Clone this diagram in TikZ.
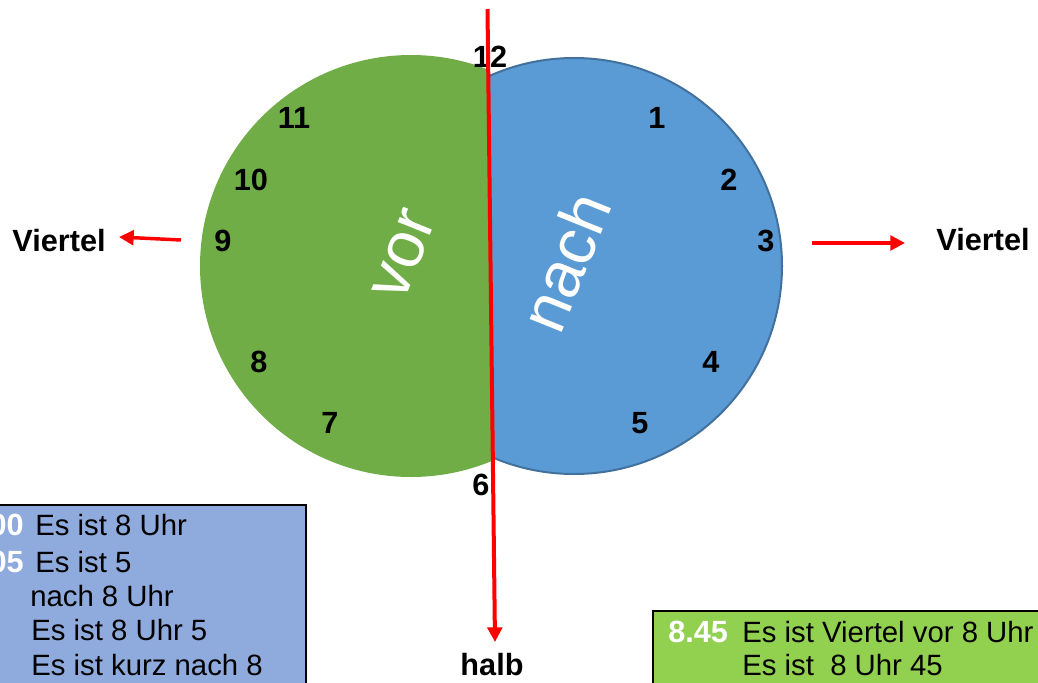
\documentclass[tikz,border=0pt]{standalone}
\usepackage{fontspec}
\setmainfont{Liberation Sans}
\usetikzlibrary{arrows.meta}
\definecolor{cgreen}{HTML}{70AD47}
\definecolor{cblue}{HTML}{5B9BD5}
\definecolor{cbord}{HTML}{41719C}
\definecolor{boxblue}{HTML}{8FAADC}
\definecolor{boxgreen}{HTML}{92D050}
\definecolor{cred}{HTML}{FF0000}
\begin{document}
\begin{tikzpicture}[x=0.75pt,y=-0.75pt,
  num/.style={font=\bfseries\fontsize{23}{27}\selectfont, inner sep=0pt},
  lbl/.style={font=\bfseries\fontsize{23}{27}\selectfont, inner sep=0pt, anchor=base},
  boxtxt/.style={font=\fontsize{22}{26}\selectfont, inner sep=0pt, anchor=base west},
  boxnum/.style={font=\bfseries\fontsize{23}{26}\selectfont, text=white, inner sep=0pt, anchor=base west},
  word/.style={font=\fontsize{49}{55}\selectfont, text=white, inner sep=0pt, rotate=68},
  redarrow/.style={draw=cred, line width=2.6pt, -{Triangle[length=11pt,width=11pt]}},
]
\useasboundingbox (0,0) rectangle (1038,682);
% green half
\begin{scope}
  \clip (0,-20) -- (487.2,-20) -- (495.8,700) -- (0,700) -- cycle;
  \fill[cgreen] (411,266) circle[radius=158.25pt];
\end{scope}
% blue half
\begin{scope}
  \clip (487.2,-20) -- (1100,-20) -- (1100,700) -- (495.8,700) -- cycle;
  \filldraw[fill=cblue, draw=cbord, line width=1.5pt] (574,266) circle[radius=156pt];
\end{scope}
% words
\node[word] (vor) at (404,255) {vor};
\node[word] (nach) at (565,262) {nach};
% numbers
\node[num] (n12) at (490,57) {12};
\node[num] (n1) at (657,118) {1};
\node[num] (n2) at (729,180) {2};
\node[num] (n3) at (766,241) {3};
\node[num] (n4) at (711,362) {4};
\node[num] (n5) at (640,423) {5};
\node[num] (n6) at (481,485) {6};
\node[num] (n7) at (330,423) {7};
\node[num] (n8) at (259,362) {8};
\node[num] (n9) at (223,241) {9};
\node[num] (n10) at (251,180) {10};
\node[num] (n11) at (294,118) {11};
% red line
\coordinate (ltop) at (487.5,9);
\coordinate (lbot) at (495,642);
\draw[redarrow, line width=3pt] (ltop) -- (lbot);
\node[lbl] (halb) at (492,675) {halb};
% side arrows
\node[lbl] (vl) at (59,251) {Viertel};
\node[lbl] (vr) at (983,250) {Viertel};
\coordinate (la1) at (181,240);
\coordinate (la2) at (119,237);
\draw[redarrow] (la1) -- (la2);
\coordinate (ra1) at (812,243);
\coordinate (ra2) at (905,243);
\draw[redarrow] (ra1) -- (ra2);
% left box
\filldraw[fill=boxblue, draw=black, line width=1.5pt] (-20,505) rectangle (306,700);
\node[boxnum, anchor=base east] (t800) at (24,535) {8.00};
\node[boxtxt] (l1) at (35,535) {Es ist 8 Uhr};
\node[boxnum, anchor=base east] (t805) at (24,572) {8.05};
\node[boxtxt] (l2) at (35,572) {Es ist 5};
\node[boxtxt] (l3) at (30,606) {nach 8 Uhr};
\node[boxtxt] (l4) at (31,640) {Es ist 8 Uhr 5};
\node[boxtxt] (l5) at (31,675) {Es ist kurz nach 8};
% right box
\filldraw[fill=boxgreen, draw=black, line width=1.5pt] (653,611) rectangle (1060,700);
\node[boxnum] (t845) at (668,642) {8.45};
\node[boxtxt] (r1) at (742,642) {Es ist Viertel vor 8 Uhr};
\node[boxtxt] (r2) at (742,675) {Es ist \ 8 Uhr 45};
\end{tikzpicture}
\end{document}
